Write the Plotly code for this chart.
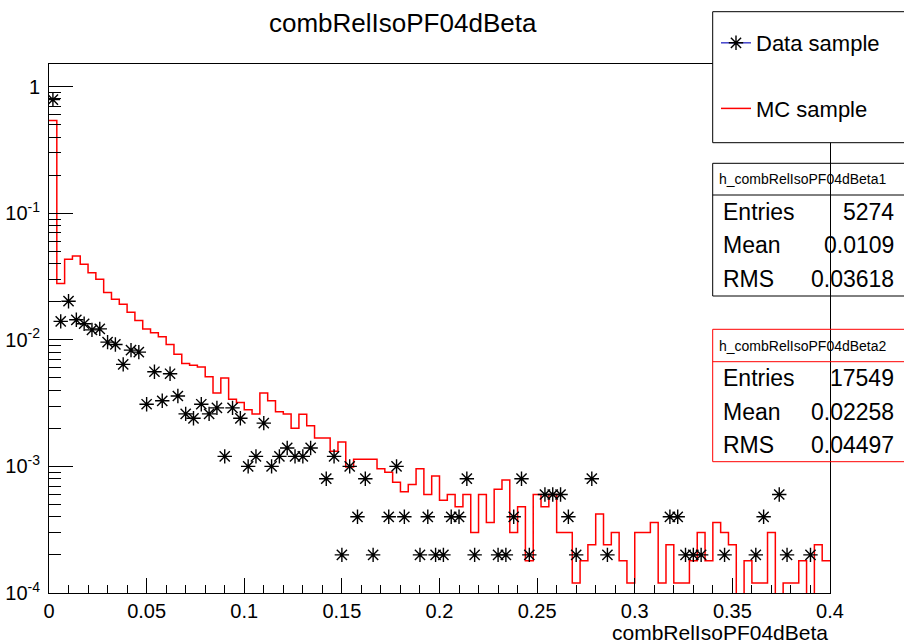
import plotly.graph_objects as go

# ---------------- data ----------------
X_MIN, X_MAX, N_BINS = 0.0, 0.4, 100
BIN_W = (X_MAX - X_MIN) / N_BINS
bin_lo = [X_MIN + i * BIN_W for i in range(N_BINS)]
bin_center = [b + BIN_W / 2 for b in bin_lo]

data_values = [
    0.79, 0.014, 0.0202, 0.0144, 0.0134, 0.012, 0.0122, 0.0096, 0.0092, 0.0064,
    0.0083, 0.008, 0.0031, 0.0056, 0.0033, 0.0054, 0.0036, 0.0026, 0.0024, 0.0031,
    0.0026, 0.0029, 0.0012, 0.0029, 0.0024, 0.001, 0.0012, 0.0022, 0.001, 0.0012,
    0.0014, 0.0012, 0.0012, 0.0014, 0, 0.0008, 0.0012, 0.0002, 0.001, 0.0004,
    0.0008, 0.0002, 0, 0.0004, 0.001, 0.0004, 0, 0.0002, 0.0004, 0.0002,
    0.0002, 0.0004, 0.0004, 0.0008, 0.0002, 0, 0, 0.0002, 0.0002, 0.0004,
    0.0008, 0.0002, 0, 0.0006, 0.0006, 0.0006, 0.0004, 0.0002, 0, 0.0008,
    0, 0.0002, 0, 0, 0, 0, 0, 0, 0, 0.0004,
    0.0004, 0.0002, 0.0002, 0.0002, 0, 0, 0.0002, 0, 0, 0,
    0.0002, 0.0004, 0, 0.0006, 0.0002, 0, 0, 0.0002, 0, 0,
]

mc_values = [
    0.54, 0.0279, 0.0433, 0.0459, 0.0395, 0.0339, 0.0301, 0.0237, 0.0209, 0.0191,
    0.0165, 0.0142, 0.0122, 0.0114, 0.0106, 0.0092, 0.0077, 0.0065, 0.0063, 0.0061,
    0.0051, 0.0038, 0.0050, 0.0034, 0.0032, 0.0028, 0.0026, 0.0038, 0.0033, 0.0027,
    0.0026, 0.0020, 0.00258, 0.0021, 0.00168, 0.00168, 0.00132, 0.00156, 0.00099, 0.00114,
    0.00114, 0.00114, 0.00096, 0.0009, 0.00075, 0.00063, 0.00072, 0.00096, 0.0006, 0.00084,
    0.00054, 0.0006, 0.00048, 0.0006, 0.0003, 0.0006, 0.00036, 0.00066, 0.00078, 0.0003,
    0.00048, 0.00018, 0.0006, 0.00048, 0.0006, 0.0003, 0.0003, 0.00012, 0.00018, 0.00024,
    0.00042, 0.00024, 0.0003, 0.00018, 0.00012, 0.0003, 0.0003, 0.00036, 0.00012, 0.00024,
    0.00012, 0.00012, 0.00018, 0.0003, 0.00018, 0.00036, 0.0003, 0.00024, 0.00006, 0.00018,
    0.00012, 0.00012, 0.0003, 0.00006, 0.00012, 0.00012, 0.00018, 0.00006, 0.00024, 0.00018,
]

x_tick_vals = [0, 0.05, 0.1, 0.15, 0.2, 0.25, 0.3, 0.35, 0.4]
x_tick_text = ["0", "0.05", "0.1", "0.15", "0.2", "0.25", "0.3", "0.35", "0.4"]
y_tick_vals = [1e-4, 1e-3, 1e-2, 1e-1, 1]
y_tick_text = ["10<sup>-4</sup>", "10<sup>-3</sup>", "10<sup>-2</sup>", "10<sup>-1</sup>", "1"]
y_minor_vals = [m * 10.0 ** e for e in range(-4, 1) for m in range(2, 10)]

stats1 = [("Entries", "5274"), ("Mean", "0.0109"), ("RMS", "0.03618")]
stats2 = [("Entries", "17549"), ("Mean", "0.02258"), ("RMS", "0.04497")]

# ---------------- layout geometry (pixels) ----------------
W, H = 904, 643
L, R, T, B = 49, 830, 64, 593
FONT = "Liberation Sans, Arial, Helvetica, sans-serif"


def px(xp):
    return (xp - L) / (R - L)


def py(yp):
    return (B - yp) / (B - T)


fig = go.Figure()

# MC histogram (step line)
fig.add_trace(go.Scatter(
    x=bin_lo + [X_MAX], y=mc_values + [mc_values[-1]],
    mode="lines", line=dict(color="#ff0000", width=1.5, shape="hv"),
    showlegend=False, hoverinfo="skip",
))
# Data markers
fig.add_trace(go.Scatter(
    x=bin_center, y=[v if v > 0 else None for v in data_values],
    mode="markers",
    marker=dict(symbol="asterisk-open", size=12, color="black",
                line=dict(color="black", width=1.4)),
    showlegend=False,
))
# legend entries
fig.add_trace(go.Scatter(
    x=[None], y=[None], mode="lines+markers", name="Data sample",
    legendgroup="a",
    line=dict(color="#4444cc", width=1.5),
    marker=dict(symbol="asterisk-open", size=12, color="black",
                line=dict(color="black", width=1.4)),
))
fig.add_trace(go.Scatter(
    x=[None], y=[None], mode="lines", name="MC sample", legendgroup="b",
    line=dict(color="#ff0000", width=1.5),
))
# carrier for minor-tick axis
fig.add_trace(go.Scatter(x=[None], y=[None], yaxis="y2", showlegend=False,
                         hoverinfo="skip"))

shapes = []
annotations = []

# legend box
shapes.append(dict(type="rect", xref="paper", yref="paper",
                   x0=px(712.7), x1=px(906), y0=py(142.7), y1=py(11.7),
                   line=dict(color="black", width=1), fillcolor="white",
                   layer="above"))

# stats boxes
for (top, sep, bot, color, name, rows) in [
    (163.3, 195, 296, "black", "h_combRelIsoPF04dBeta1", stats1),
    (329.3, 361.7, 461.7, "#ff0000", "h_combRelIsoPF04dBeta2", stats2),
]:
    shapes.append(dict(type="rect", xref="paper", yref="paper",
                       x0=px(712.7), x1=px(906), y0=py(bot), y1=py(top),
                       line=dict(color=color, width=1), layer="above"))
    shapes.append(dict(type="line", xref="paper", yref="paper",
                       x0=px(712.7), x1=px(906), y0=py(sep), y1=py(sep),
                       line=dict(color=color, width=1), layer="above"))
    annotations.append(dict(text=name, xref="paper", yref="paper",
                            x=px(717), y=py((top + sep) / 2), xanchor="left",
                            yanchor="middle", showarrow=False,
                            font=dict(size=14, family=FONT, color="black")))
    row_h = (bot - sep) / 3
    for k, (lab, val) in enumerate(rows):
        yc = sep + row_h * (k + 0.5)
        annotations.append(dict(text=lab, xref="paper", yref="paper",
                                x=px(721), y=py(yc), xanchor="left",
                                yanchor="middle", showarrow=False,
                                font=dict(size=23, family=FONT, color="black")))
        annotations.append(dict(text=val, xref="paper", yref="paper",
                                x=px(896), y=py(yc), xanchor="right",
                                yanchor="middle", showarrow=False,
                                font=dict(size=23, family=FONT, color="black")))

# title
annotations.append(dict(text="combRelIsoPF04dBeta", xref="paper", yref="paper",
                        x=px(402.5), y=py(23), xanchor="center", yanchor="middle",
                        showarrow=False,
                        font=dict(size=26, family=FONT, color="black")))
# x-axis title
annotations.append(dict(text="combRelIsoPF04dBeta", xref="paper", yref="paper",
                        x=px(830), y=py(632), xanchor="right", yanchor="middle",
                        showarrow=False,
                        font=dict(size=21, family=FONT, color="black")))

fig.update_layout(
    width=W, height=H,
    margin=dict(l=L, r=W - R, t=T, b=H - B, pad=0, autoexpand=False),
    paper_bgcolor="white", plot_bgcolor="white",
    font=dict(family=FONT, color="black"),
    showlegend=True,
    legend=dict(x=px(716), y=py(22), xanchor="left", yanchor="top",
                bgcolor="rgba(0,0,0,0)", borderwidth=0,
                font=dict(size=22, family=FONT, color="black"),
                tracegroupgap=34, itemwidth=30),
    xaxis=dict(range=[X_MIN, X_MAX], tickmode="array", tickvals=x_tick_vals,
               ticktext=x_tick_text, ticks="inside", ticklen=15,
               tickcolor="black", tickwidth=1, showline=True, linecolor="black",
               linewidth=1, mirror=True, showgrid=False, zeroline=False,
               automargin=False,
               tickfont=dict(size=20, family=FONT, color="black"),
               minor=dict(dtick=0.01, tick0=0, ticks="inside", ticklen=8,
                          tickcolor="black", showgrid=False)),
    yaxis=dict(type="log", range=[-4, 0.1793], tickmode="array",
               tickvals=y_tick_vals, ticktext=y_tick_text, ticks="inside",
               ticklen=24, tickcolor="black", tickwidth=1, showline=True,
               linecolor="black", linewidth=1, mirror=True, showgrid=False,
               zeroline=False, ticklabelstandoff=4, automargin=False,
               tickfont=dict(size=20, family=FONT, color="black")),
    yaxis2=dict(type="log", range=[-4, 0.1793], overlaying="y", side="left",
                tickmode="array", tickvals=y_minor_vals, ticks="inside",
                ticklen=12, tickcolor="black", showticklabels=False,
                showline=False, showgrid=False, zeroline=False,
                automargin=False),
    shapes=shapes,
    annotations=annotations,
)

fig.write_html("out.html")
